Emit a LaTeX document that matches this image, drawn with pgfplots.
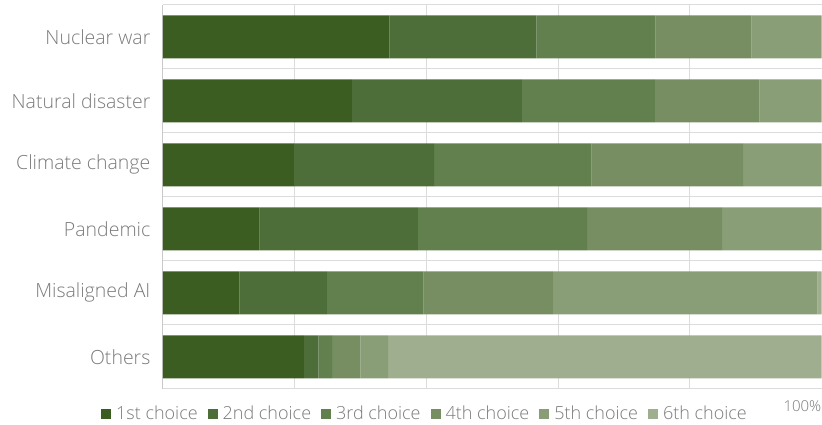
\documentclass[border=0pt]{standalone}
\usepackage{pgfplots}
\pgfplotsset{compat=1.18}
\usepackage{fontspec}
\setmainfont{Open Sans}[UprightFont=* Light]
\definecolor{c1}{HTML}{3B5D22}
\definecolor{c2}{HTML}{4E6E39}
\definecolor{c3}{HTML}{627F4E}
\definecolor{c4}{HTML}{768E61}
\definecolor{c5}{HTML}{899E77}
\definecolor{c6}{HTML}{9EAE8E}
\definecolor{txt}{HTML}{7A7A7A}
\definecolor{grd}{HTML}{DCDCDC}
\begin{document}
\begin{tikzpicture}
\begin{axis}[
  scale only axis, width=659pt, height=384pt,
  xbar stacked, bar width=43pt,
  xmin=0, xmax=100, ymin=-0.5, ymax=5.5, y dir=reverse,
  ytick={0,1,2,3,4,5},
  yticklabels={Nuclear war, Natural disaster, Climate change, Pandemic, Misaligned AI, Others},
  minor ytick={-0.5,0.5,1.5,2.5,3.5,4.5,5.5},
  yminorgrids=true, ymajorgrids=false,
  xtick={20,40,60,80}, xticklabels={,,,}, xmajorgrids=true,
  extra x ticks={100}, extra x tick labels={100\%},
  extra x tick style={grid=none, xticklabel style={anchor=north east, inner sep=0pt, yshift=-12pt, font=\fontsize{15}{17}\selectfont, text=txt}},
  grid style={draw=grd, line width=1pt},
  minor grid style={draw=grd, line width=1pt},
  major tick length=0pt, minor tick length=0pt,
  axis x line*=bottom, axis y line*=left,
  x axis line style={draw=none},
  y axis line style={draw=grd!80!gray, line width=1pt},
  yticklabel style={font=\fontsize{19.5}{22}\selectfont, text=txt, xshift=-9pt},
  legend columns=6,
  legend style={at={(0.398,-0.065)}, anchor=center, draw=none, fill=none,
    font=\fontsize{18}{20}\selectfont, text=txt,
    /tikz/every odd column/.append style={column sep=3pt},
    /tikz/every even column/.append style={column sep=8pt},
    inner sep=0pt},
  legend image code/.code={\fill[#1,draw=none] (0pt,-5pt) rectangle (10pt,5pt);},
  every axis plot/.append style={draw=none},
]
\coordinate (bl) at (axis description cs:0,0);
\coordinate (tr) at (axis description cs:1,1);
\addplot[fill=c1] coordinates {(34.4,0) (28.7,1) (19.9,2) (14.7,3) (11.6,4) (21.4,5)};
\addplot[fill=c2] coordinates {(22.3,0) (25.8,1) (21.3,2) (24.0,3) (13.3,4) (2.2,5)};
\addplot[fill=c3] coordinates {(18.1,0) (20.2,1) (23.9,2) (25.7,3) (14.7,4) (2.1,5)};
\addplot[fill=c4] coordinates {(14.6,0) (15.9,1) (23.0,2) (20.5,3) (19.6,4) (4.3,5)};
\addplot[fill=c5] coordinates {(10.6,0) (9.4,1) (11.9,2) (15.1,3) (40.2,4) (4.2,5)};
\addplot[fill=c6] coordinates {(0,0) (0,1) (0,2) (0,3) (0.6,4) (65.8,5)};
\legend{1st choice, 2nd choice, 3rd choice, 4th choice, 5th choice, 6th choice}
\end{axis}
\path (bl) ++(-163pt,-36pt);
\path (tr) ++(0pt,5pt);
\end{tikzpicture}
\end{document}
